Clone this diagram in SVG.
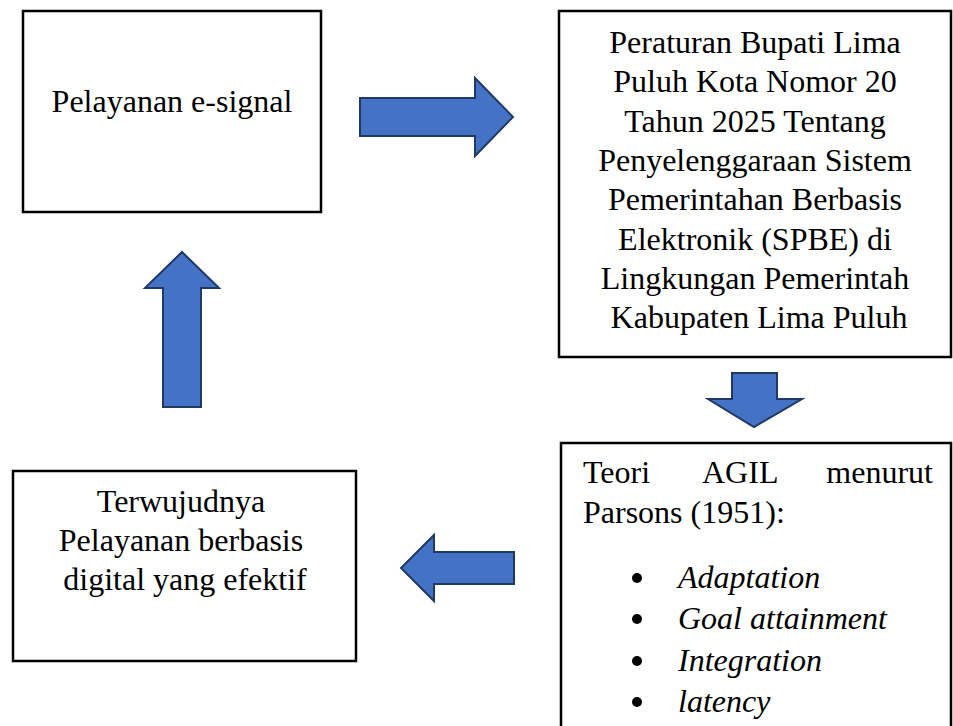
<svg xmlns="http://www.w3.org/2000/svg" width="953" height="726" viewBox="0 0 953 726">
<style>
.box{fill:#fff;stroke:#000;stroke-width:2.5}
.arr{fill:#4472C4;stroke:#1F3864;stroke-width:2;stroke-linejoin:miter}
text{font-family:"Liberation Serif","Times New Roman",serif;font-size:32px;fill:#000}
.c{text-anchor:middle}
.i{font-style:italic}
</style>
<rect width="953" height="726" fill="#fff"/>
<g id="node-esignal">
<rect class="box" x="23" y="11" width="298" height="201"/>
<text class="c" x="172" y="112">Pelayanan e-signal</text>
</g>
<g id="node-peraturan">
<rect class="box" x="559" y="11" width="392" height="346"/>
<text class="c" x="759">
<tspan x="759" y="53">Peraturan Bupati Lima</tspan>
<tspan x="759" y="92">Puluh Kota Nomor 20</tspan>
<tspan x="759" y="132">Tahun 2025 Tentang</tspan>
<tspan x="759" y="171">Penyelenggaraan Sistem</tspan>
<tspan x="759" y="210">Pemerintahan Berbasis</tspan>
<tspan x="759" y="250">Elektronik (SPBE) di</tspan>
<tspan x="759" y="289">Lingkungan Pemerintah</tspan>
<tspan x="759" y="328">Kabupaten Lima Puluh</tspan>
</text>
</g>
<g id="node-agil">
<rect class="box" x="561" y="443" width="390" height="300"/>
<text x="583" y="483">Teori</text>
<text x="702" y="483">AGIL</text>
<text x="933" y="483" text-anchor="end">menurut</text>
<text x="583" y="523">Parsons (1951):</text>
<circle cx="637" cy="578" r="5"/>
<circle cx="637" cy="619" r="5"/>
<circle cx="637" cy="661" r="5"/>
<circle cx="637" cy="702" r="5"/>
<text class="i" x="678" y="588">Adaptation</text>
<text class="i" x="678" y="629">Goal attainment</text>
<text class="i" x="678" y="671">Integration</text>
<text class="i" x="678" y="712">latency</text>
</g>
<g id="node-terwujud">
<rect class="box" x="13" y="471" width="343" height="190"/>
<text class="c">
<tspan x="185" y="512">Terwujudnya</tspan>
<tspan x="185" y="551">Pelayanan berbasis</tspan>
<tspan x="185" y="590">digital yang efektif</tspan>
</text>
</g>
<g id="connectors">
<polygon class="arr" points="360,98 475,98 475,78 513,117 475,156 475,136 360,136"/>
<polygon class="arr" points="732,373 777,373 777,399 802,399 754,427 708,399 732,399"/>
<polygon class="arr" points="514,552 434,552 434,535 401,568 434,601 434,584 514,584"/>
<polygon class="arr" points="163,407 163,288 145,288 182,252 219,288 201,288 201,407"/>
</g>
</svg>
